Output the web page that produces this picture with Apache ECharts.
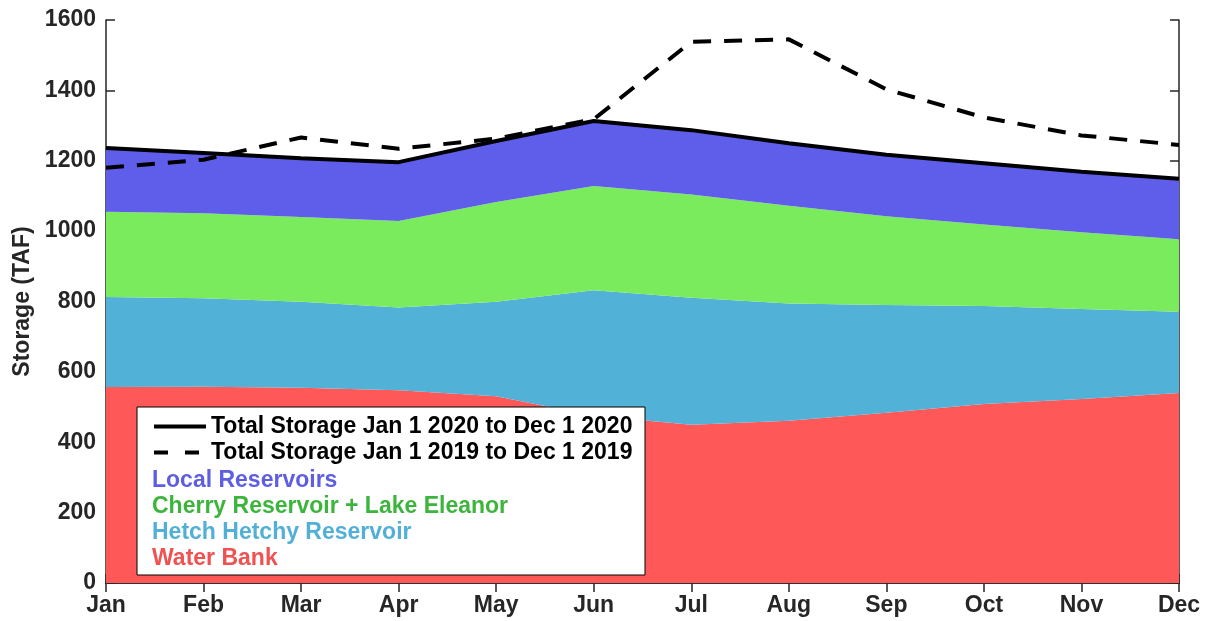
<!DOCTYPE html>
<html>
<head>
<meta charset="utf-8">
<script src="https://cdn.jsdelivr.net/npm/echarts@6/dist/echarts.min.js"></script>
<style>html,body{margin:0;padding:0;background:#fff;}#c{width:1206px;height:621px;}</style>
</head>
<body>
<div id="c"></div>
<script>
const months = ['Jan','Feb','Mar','Apr','May','Jun','Jul','Aug','Sep','Oct','Nov','Dec'];
const waterBank = [557, 558, 555, 548, 531, 475, 450, 461, 484, 509, 523, 540];
const hetchHetchy = [256, 251, 244, 235, 268, 357, 361, 333, 306, 278, 256, 231];
const cherryEleanor = [242, 242, 241, 246, 284, 296, 293, 278, 252, 232, 218, 206];
const localReservoirs = [181, 171, 167, 167, 173, 185, 183, 178, 175, 174, 172, 172];
const total2020 = [1236, 1222, 1207, 1196, 1256, 1313, 1287, 1250, 1217, 1193, 1169, 1149];
const total2019 = [1180, 1203, 1266, 1234, 1263, 1318, 1538, 1545, 1403, 1323, 1272, 1245];
const yTicks = [0, 200, 400, 600, 800, 1000, 1200, 1400, 1600];

const names = {
  t20: 'Total Storage Jan 1 2020 to Dec 1 2020',
  t19: 'Total Storage Jan 1 2019 to Dec 1 2019',
  local: 'Local Reservoirs',
  cherry: 'Cherry Reservoir + Lake Eleanor',
  hetch: 'Hetch Hetchy Reservoir',
  water: 'Water Bank'
};
const font = 'Liberation Sans, Arial, sans-serif';
const axisColor = '#262626';

function area(name, data, color) {
  return {
    name, type: 'line', stack: 'total', data, symbol: 'none',
    lineStyle: { width: 0, color }, itemStyle: { color },
    areaStyle: { color, opacity: 1 }, z: 2, silent: true
  };
}

const chart = echarts.init(document.getElementById('c'), null, { renderer: 'canvas' });
chart.setOption({
  backgroundColor: '#fff',
  animation: false,
  grid: { left: 106, right: 27, top: 20, bottom: 38, containLabel: false, outerBoundsMode: 'none' },
  xAxis: [
    {
      type: 'category', data: months, boundaryGap: false, position: 'bottom',
      axisLine: { lineStyle: { color: axisColor, width: 1.5 } },
      axisTick: { inside: true, length: 9, alignWithLabel: true, lineStyle: { color: axisColor, width: 1.5 } },
      axisLabel: { fontFamily: font, fontWeight: 'bold', fontSize: 23, color: axisColor, margin: 11 },
      splitLine: { show: false }
    },
    {
      type: 'category', data: months, boundaryGap: false, position: 'top',
      axisLine: { show: true, lineStyle: { color: axisColor, width: 1.5 } },
      axisTick: { inside: true, length: 9, lineStyle: { color: axisColor, width: 1.5 } },
      axisLabel: { show: false }, splitLine: { show: false }
    }
  ],
  yAxis: [
    {
      type: 'value', min: yTicks[0], max: yTicks[yTicks.length - 1], interval: 200,
      name: 'Storage (TAF)', nameLocation: 'middle', nameGap: 70,
      nameTextStyle: { fontFamily: font, fontWeight: 'bold', fontSize: 23, color: axisColor },
      axisLine: { show: true, lineStyle: { color: axisColor, width: 1.5 } },
      axisTick: { show: true, inside: true, length: 9, lineStyle: { color: axisColor, width: 1.5 } },
      axisLabel: { fontFamily: font, fontWeight: 'bold', fontSize: 23, color: axisColor, margin: 10,
        formatter: v => String(v) },
      splitLine: { show: false }
    },
    {
      type: 'value', min: yTicks[0], max: yTicks[yTicks.length - 1], interval: 200, position: 'right',
      axisLine: { show: true, lineStyle: { color: axisColor, width: 1.5 } },
      axisTick: { show: true, inside: true, length: 9, lineStyle: { color: axisColor, width: 1.5 } },
      axisLabel: { show: false }, splitLine: { show: false }
    }
  ],
  legend: [
    {
      orient: 'vertical', left: 147, top: 410, padding: 5,
      itemWidth: 52, itemHeight: 14, itemGap: 3, z: 10, selectedMode: false,
      itemStyle: { opacity: 0 },
      textStyle: { fontFamily: font, fontWeight: 'bold', fontSize: 23, color: '#000', lineHeight: 23 },
      data: [
        { name: names.t20, lineStyle: { color: '#000', width: 4, type: 'solid' } },
        { name: names.t19, lineStyle: { color: '#000', width: 4, type: [14, 17] } }
      ]
    },
    {
      orient: 'vertical', left: 142, top: 464, padding: 5, itemWidth: 0, itemHeight: 0, itemGap: 3, z: 10,
      selectedMode: false, itemStyle: { opacity: 0 },
      textStyle: { fontFamily: font, fontWeight: 'bold', fontSize: 23, lineHeight: 23 },
      data: [
        { name: names.local, textStyle: { color: '#5E5EE2' } },
        { name: names.cherry, textStyle: { color: '#3DB53D' } },
        { name: names.hetch, textStyle: { color: '#52B0D8' } },
        { name: names.water, textStyle: { color: '#F05252' } }
      ]
    }
  ],
  graphic: [
    {
      type: 'rect', z: 9, silent: true,
      shape: { x: 137, y: 407, width: 508, height: 168 },
      style: { fill: '#fff', stroke: '#000', lineWidth: 1 }
    }
  ],
  series: [
    area(names.water, waterBank, '#FF5858'),
    area(names.hetch, hetchHetchy, '#52B1D7'),
    area(names.cherry, cherryEleanor, '#7AEB5C'),
    area(names.local, localReservoirs, '#5F5EEA'),
    {
      name: names.t20, type: 'line', data: total2020, symbol: 'none', z: 4,
      lineStyle: { color: '#000', width: 4, type: 'solid' }, itemStyle: { color: '#000' }
    },
    {
      name: names.t19, type: 'line', data: total2019, symbol: 'none', z: 5,
      lineStyle: { color: '#000', width: 4, type: [18, 13] }, itemStyle: { color: '#000' }
    }
  ]
});
</script>
</body>
</html>
